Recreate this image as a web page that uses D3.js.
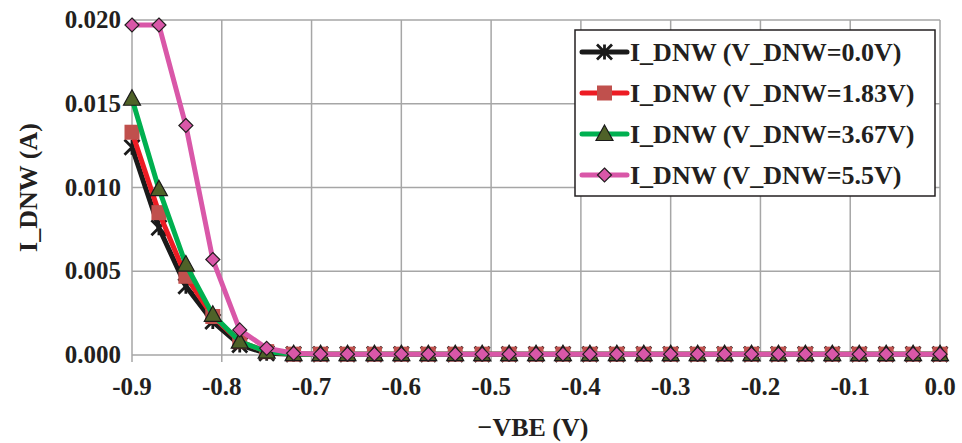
<!DOCTYPE html>
<html>
<head>
<meta charset="utf-8">
<script src="https://cdn.jsdelivr.net/npm/d3@7"></script>
</head>
<body style="margin:0">
<script>
// -VBE sweep, 31 points from -0.9 to 0.0
var vbe = [-0.90, -0.87, -0.84, -0.81, -0.78, -0.75, -0.72, -0.69, -0.66, -0.63, -0.60,
  -0.57, -0.54, -0.51, -0.48, -0.45, -0.42, -0.39, -0.36, -0.33, -0.30,
  -0.27, -0.24, -0.21, -0.18, -0.15, -0.12, -0.09, -0.06, -0.03, 0.00];

// flat part of the curves (≈0 A) up to 0.0
var tail = [0.00005, 0.00005, 0.00005, 0.00005, 0.00005, 0.00005, 0.00005, 0.00005, 0.00005, 0.00005,
  0.00005, 0.00005, 0.00005, 0.00005, 0.00005, 0.00005, 0.00005, 0.00005, 0.00005, 0.00005,
  0.00005, 0.00005, 0.00005, 0.00005, 0.00005];

var i_0v = [0.0124, 0.0076, 0.0041, 0.0020, 0.0006, 0.0001].concat(tail.slice(0, 25));
var i_183v = [0.0133, 0.0085, 0.0047, 0.0023, 0.0008, 0.0002].concat(tail.slice(0, 25));
var i_367v = [0.0153, 0.0099, 0.0054, 0.0024, 0.0008, 0.0002].concat(tail.slice(0, 25));
var i_55v = [0.0197, 0.0197, 0.0137, 0.0057, 0.0015, 0.0004, 0.0001].concat(tail.slice(0, 24));

var seriesNames = ["I_DNW (V_DNW=0.0V)", "I_DNW (V_DNW=1.83V)", "I_DNW (V_DNW=3.67V)", "I_DNW (V_DNW=5.5V)"];
var xTicks = [-0.9, -0.8, -0.7, -0.6, -0.5, -0.4, -0.3, -0.2, -0.1, 0.0];
var yTicks = [0.000, 0.005, 0.010, 0.015, 0.020];

var width = 962, height = 443;
var margin = {left: 132, right: 22, top: 20, bottom: 88};

var svg = d3.select("body").append("svg")
  .attr("width", width).attr("height", height);

var x = d3.scaleLinear().domain([-0.9, 0]).range([margin.left, width - margin.right]);
var y = d3.scaleLinear().domain([0, 0.020]).range([height - margin.bottom, margin.top]);

function label(sel, size) {
  return sel.attr("font-size", size).attr("font-weight", "bold")
    .style("font-family", "'Liberation Serif'").attr("fill", "#231f20");
}

// gridlines
svg.append("g").selectAll("line").data(xTicks).enter().append("line")
  .attr("x1", function (d) { return x(d); }).attr("x2", function (d) { return x(d); })
  .attr("y1", y(0.020)).attr("y2", y(0) + 7)
  .attr("stroke", "#a6a6a6").attr("stroke-width", 1.5);
svg.append("g").selectAll("line").data(yTicks).enter().append("line")
  .attr("x1", x(-0.9)).attr("x2", x(0))
  .attr("y1", function (d) { return y(d); }).attr("y2", function (d) { return y(d); })
  .attr("stroke", "#a6a6a6").attr("stroke-width", 1.5);

// tick labels
yTicks.forEach(function (d) {
  label(svg.append("text"), 25)
    .attr("x", x(-0.9) - 11).attr("y", y(d) + 8).attr("text-anchor", "end")
    .text(d3.format(".3f")(d));
});
xTicks.forEach(function (d) {
  label(svg.append("text"), 25)
    .attr("x", x(d)).attr("y", y(0) + 40).attr("text-anchor", "middle")
    .text(d3.format(".1f")(d).replace("\u2212", "-"));
});

// axis titles
label(svg.append("text"), 26).attr("x", 533).attr("y", 436).attr("text-anchor", "middle")
  .text("\u2212VBE (V)");
label(svg.append("text"), 26)
  .attr("transform", "translate(37," + ((y(0) + y(0.02)) / 2) + ") rotate(-90)")
  .attr("text-anchor", "middle").text("I_DNW (A)");

var series = [
  {name: seriesNames[0], values: i_0v, line: "#1a1a1a", fill: "#1a1a1a", marker: "star"},
  {name: seriesNames[1], values: i_183v, line: "#ed1c24", fill: "#c0504d", marker: "square"},
  {name: seriesNames[2], values: i_367v, line: "#00b050", fill: "#4f6228", marker: "triangle"},
  {name: seriesNames[3], values: i_55v, line: "#d957a8", fill: "#d957a8", marker: "diamond"}
];

var line = d3.line()
  .x(function (d, i) { return x(vbe[i]); })
  .y(function (d) { return y(d); });

function drawMarker(g, s, cx, cy) {
  if (s.marker == "star") {
    var r = 7.5;
    g.append("path")
      .attr("d", "M" + (cx - r) + "," + (cy - r) + "L" + (cx + r) + "," + (cy + r) +
        "M" + (cx - r) + "," + (cy + r) + "L" + (cx + r) + "," + (cy - r) +
        "M" + cx + "," + (cy - r) + "L" + cx + "," + (cy + r))
      .attr("stroke", "#1a1a1a").attr("stroke-width", 2.8).attr("fill", "none");
  } else if (s.marker == "square") {
    g.append("rect").attr("x", cx - 7.5).attr("y", cy - 7.5).attr("width", 15).attr("height", 15)
      .attr("fill", s.fill);
  } else if (s.marker == "triangle") {
    g.append("path")
      .attr("d", "M" + cx + "," + (cy - 9) + "L" + (cx + 8.5) + "," + (cy + 6.5) + "L" + (cx - 8.5) + "," + (cy + 6.5) + "Z")
      .attr("fill", s.fill).attr("stroke", "#1a1a1a").attr("stroke-width", 1.2);
  } else {
    g.append("path")
      .attr("d", "M" + cx + "," + (cy - 7) + "L" + (cx + 7) + "," + cy + "L" + cx + "," + (cy + 7) + "L" + (cx - 7) + "," + cy + "Z")
      .attr("fill", s.fill).attr("stroke", "#231f20").attr("stroke-width", 1.2);
  }
}

series.forEach(function (s) {
  var g = svg.append("g");
  g.append("path").datum(s.values).attr("d", line)
    .attr("fill", "none").attr("stroke", s.line).attr("stroke-width", 5)
    .attr("stroke-linejoin", "round");
  s.values.forEach(function (v, i) {
    drawMarker(g, s, x(vbe[i]), y(v));
  });
});

// legend
var lg = svg.append("g");
lg.append("rect").attr("x", 575).attr("y", 30).attr("width", 360).attr("height", 166)
  .attr("fill", "#fff").attr("stroke", "#231f20").attr("stroke-width", 1.5);
series.forEach(function (s, i) {
  var ly = 52 + i * 41;
  lg.append("line").attr("x1", 582).attr("x2", 627).attr("y1", ly).attr("y2", ly)
    .attr("stroke", s.line).attr("stroke-width", 5).attr("stroke-linecap", "round");
  drawMarker(lg, s, 604.5, ly);
  label(lg.append("text"), 26).attr("x", 630).attr("y", ly + 9)
    .text(s.name);
});
</script>
</body>
</html>
